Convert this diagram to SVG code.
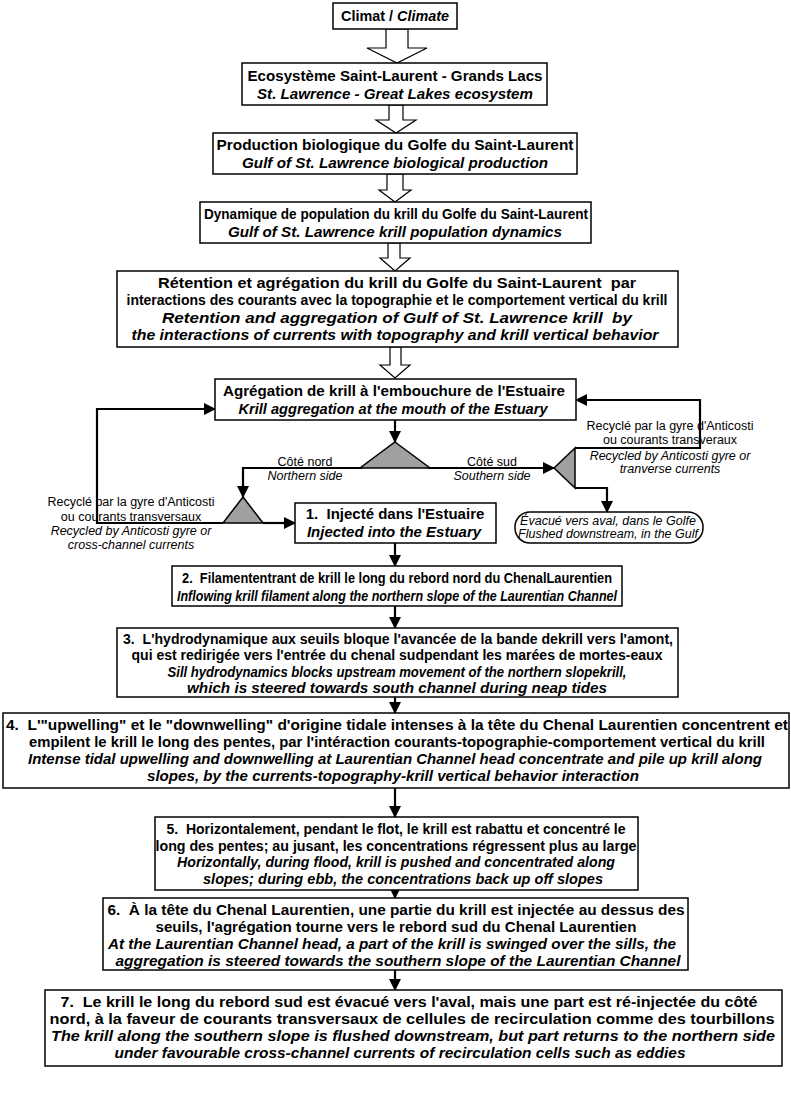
<svg xmlns="http://www.w3.org/2000/svg" width="791" height="1100" viewBox="0 0 791 1100">
<style>
text{font-family:"Liberation Sans",Arial,sans-serif;fill:#000;white-space:pre}
.t{font-weight:bold;font-size:15px;text-anchor:middle}
.ti{font-weight:bold;font-style:italic;font-size:15px;text-anchor:middle}
.c{font-weight:bold;font-size:14px;text-anchor:middle}
.ci{font-weight:bold;font-style:italic;font-size:14px;text-anchor:middle}
.s{font-size:12.5px;text-anchor:middle}
.si{font-size:12.5px;font-style:italic;text-anchor:middle}
.box{fill:#fff;stroke:#000;stroke-width:1.5}
.tri{fill:#a0a0a0;stroke:#000;stroke-width:1.5;stroke-linejoin:miter}
.hol{fill:#fff;stroke:#000;stroke-width:1.2}
.ln{fill:none;stroke:#000;stroke-width:2.2}
</style>
<defs>
<marker id="ah" markerUnits="userSpaceOnUse" markerWidth="12" markerHeight="12" refX="11" refY="6" orient="auto">
<path d="M0,0 L12,6 L0,12 z" fill="#000"/>
</marker>
</defs>
<rect width="791" height="1100" fill="#fff"/>

<g id="connectors">
<polygon class="hol" points="386,29 408,29 408,48 427,48 397,63 367,48 386,48"/>
<polygon class="hol" points="389,105 403,105 403,120 416,120 396,133 376,120 389,120"/>
<polygon class="hol" points="387,174 403,174 403,190 411,190 395,202 379,190 387,190"/>
<polygon class="hol" points="388,243 400,243 400,258 410,258 395,271 380,258 388,258"/>
<polygon class="hol" points="390,347 401,347 401,365 410,365 395,378 380,365 390,365"/>
<path class="ln" d="M395,420 V442" marker-end="url(#ah)"/>
<path class="ln" d="M362,468 H243 V497" marker-end="url(#ah)"/>
<path class="ln" d="M428,468 H554" marker-end="url(#ah)"/>
<path class="ln" d="M263,523 H295" marker-end="url(#ah)"/>
<path class="ln" d="M223,523 H97 V409 H215" marker-end="url(#ah)"/>
<path class="ln" d="M575,448 H700 V400 H576" marker-end="url(#ah)"/>
<path class="ln" d="M575,488 H607 V512" marker-end="url(#ah)"/>
<path class="ln" d="M395,543 V566" marker-end="url(#ah)"/>
<path class="ln" d="M395,606 V628" marker-end="url(#ah)"/>
<path class="ln" d="M395,697 V713" marker-end="url(#ah)"/>
<path class="ln" d="M395,788 V817" marker-end="url(#ah)"/>
<path class="ln" d="M395,890 V898" marker-end="url(#ah)"/>
<path class="ln" d="M395,970 V990" marker-end="url(#ah)"/>
</g>

<g id="tri-main"><polygon class="tri" points="395,442 430,468 360,468"/></g>
<g id="tri-north"><polygon class="tri" points="243,497 263,523 223,523"/></g>
<g id="tri-south"><polygon class="tri" points="554,468 575,448 575,488"/></g>

<g id="climat">
<rect class="box" x="333" y="3" width="124" height="26"/>
<text class="t" x="395" y="21" textLength="108" lengthAdjust="spacingAndGlyphs">Climat / <tspan font-style="italic">Climate</tspan></text>
</g>
<g id="ecosysteme">
<rect class="box" x="242" y="63" width="305" height="42"/>
<text class="t" x="395" y="81" textLength="295" lengthAdjust="spacingAndGlyphs">Ecosystème Saint-Laurent - Grands Lacs</text>
<text class="ti" x="395" y="99" textLength="276" lengthAdjust="spacingAndGlyphs">St. Lawrence - Great Lakes ecosystem</text>
</g>
<g id="production">
<rect class="box" x="213" y="133" width="364" height="41"/>
<text class="t" x="395" y="150" textLength="357" lengthAdjust="spacingAndGlyphs">Production biologique du Golfe du Saint-Laurent</text>
<text class="ti" x="395" y="168" textLength="306" lengthAdjust="spacingAndGlyphs">Gulf of St. Lawrence biological production</text>
</g>
<g id="dynamique">
<rect class="box" x="200" y="202" width="391" height="41"/>
<text class="t" x="396" y="219" textLength="384" lengthAdjust="spacingAndGlyphs">Dynamique de population du krill du Golfe du Saint-Laurent</text>
<text class="ti" x="395" y="237" textLength="334" lengthAdjust="spacingAndGlyphs">Gulf of St. Lawrence krill population dynamics</text>
</g>
<g id="retention">
<rect class="box" x="117" y="271" width="561" height="76"/>
<text class="t" x="397" y="288" textLength="478" lengthAdjust="spacingAndGlyphs">Rétention et agrégation du krill du Golfe du Saint-Laurent  par</text>
<text class="t" x="397" y="305" textLength="541" lengthAdjust="spacingAndGlyphs">interactions des courants avec la topographie et le comportement vertical du krill</text>
<text class="ti" x="397" y="323" textLength="470" lengthAdjust="spacingAndGlyphs">Retention and aggregation of Gulf of St. Lawrence krill  by</text>
<text class="ti" x="395" y="340" textLength="527" lengthAdjust="spacingAndGlyphs">the interactions of currents with topography and krill vertical behavior</text>
</g>
<g id="agregation">
<rect class="box" x="215" y="379" width="361" height="41"/>
<text class="t" x="394" y="396" textLength="342" lengthAdjust="spacingAndGlyphs">Agrégation de krill à l'embouchure de l'Estuaire</text>
<text class="ti" x="393" y="414" textLength="309" lengthAdjust="spacingAndGlyphs">Krill aggregation at the mouth of the Estuary</text>
</g>
<g id="label-nord">
<text class="s" x="305" y="466">Côté nord</text>
<text class="si" x="305" y="480">Northern side</text>
</g>
<g id="label-sud">
<text class="s" x="492" y="466">Côté sud</text>
<text class="si" x="492" y="480">Southern side</text>
</g>
<g id="recycle-left">
<text class="s" x="131" y="506">Recyclé par la gyre d'Anticosti</text>
<text class="s" x="131" y="521">ou courants transversaux</text>
<text class="si" x="131" y="535">Recycled by Anticosti gyre or</text>
<text class="si" x="131" y="549">cross-channel currents</text>
</g>
<g id="recycle-right">
<text class="s" x="670" y="430">Recyclé par la gyre d'Anticosti</text>
<text class="s" x="670" y="444">ou courants transveraux</text>
<text class="si" x="670" y="460">Recycled by Anticosti gyre or</text>
<text class="si" x="670" y="473">tranverse currents</text>
</g>
<g id="evacue">
<rect class="box" x="515" y="512" width="188" height="31" rx="15" ry="15"/>
<text class="si" x="608" y="525">Évacué vers aval, dans le Golfe</text>
<text class="si" x="608" y="538">Flushed downstream, in the Gulf</text>
</g>
<g id="step1">
<rect class="box" x="295" y="503" width="201" height="40"/>
<text class="t" x="395" y="519">1.  Injecté dans l'Estuaire</text>
<text class="ti" x="394" y="537">Injected into the Estuary</text>
</g>
<g id="step2">
<rect class="box" x="172" y="566" width="450" height="40"/>
<text class="c" x="397" y="583" textLength="430" lengthAdjust="spacingAndGlyphs">2.  Filamententrant de krill le long du rebord nord du ChenalLaurentien</text>
<text class="ci" x="397" y="601" textLength="440" lengthAdjust="spacingAndGlyphs">Inflowing krill filament along the northern slope of the Laurentian Channel</text>
</g>
<g id="step3">
<rect class="box" x="117" y="628" width="561" height="69"/>
<text class="c" x="398" y="644" textLength="550" lengthAdjust="spacingAndGlyphs">3.  L'hydrodynamique aux seuils bloque l'avancée de la bande dekrill vers l'amont,</text>
<text class="c" x="397" y="660" textLength="531" lengthAdjust="spacingAndGlyphs">qui est redirigée vers l'entrée du chenal sudpendant les marées de mortes-eaux</text>
<text class="ci" x="397" y="677" textLength="459" lengthAdjust="spacingAndGlyphs">Sill hydrodynamics blocks upstream movement of the northern slopekrill,</text>
<text class="ci" x="397" y="693" textLength="420" lengthAdjust="spacingAndGlyphs">which is steered towards south channel during neap tides</text>
</g>
<g id="step4">
<rect class="box" x="3" y="713" width="786" height="75"/>
<text class="c" x="397" y="730" textLength="782" lengthAdjust="spacingAndGlyphs">4.  L'"upwelling" et le "downwelling" d'origine tidale intenses à la tête du Chenal Laurentien concentrent et</text>
<text class="c" x="397" y="747" textLength="736" lengthAdjust="spacingAndGlyphs">empilent le krill le long des pentes, par l'intéraction courants-topographie-comportement vertical du krill</text>
<text class="ci" x="395" y="764" textLength="734" lengthAdjust="spacingAndGlyphs">Intense tidal upwelling and downwelling at Laurentian Channel head concentrate and pile up krill along</text>
<text class="ci" x="393" y="781" textLength="492" lengthAdjust="spacingAndGlyphs">slopes, by the currents-topography-krill vertical behavior interaction</text>
</g>
<g id="step5">
<rect class="box" x="155" y="817" width="483" height="73"/>
<text class="c" x="396" y="834" textLength="459" lengthAdjust="spacingAndGlyphs">5.  Horizontalement, pendant le flot, le krill est rabattu et concentré le</text>
<text class="c" x="396" y="851" textLength="481" lengthAdjust="spacingAndGlyphs">long des pentes; au jusant, les concentrations régressent plus au large</text>
<text class="ci" x="396" y="867" textLength="438" lengthAdjust="spacingAndGlyphs">Horizontally, during flood, krill is pushed and concentrated along</text>
<text class="ci" x="403" y="884" textLength="400" lengthAdjust="spacingAndGlyphs">slopes; during ebb, the concentrations back up off slopes</text>
</g>
<g id="step6">
<rect class="box" x="103" y="898" width="585" height="72"/>
<text class="c" x="396" y="915" textLength="577" lengthAdjust="spacingAndGlyphs">6.  À la tête du Chenal Laurentien, une partie du krill est injectée au dessus des</text>
<text class="c" x="396" y="932" textLength="481" lengthAdjust="spacingAndGlyphs">seuils, l'agrégation tourne vers le rebord sud du Chenal Laurentien</text>
<text class="ci" x="392" y="949" textLength="568" lengthAdjust="spacingAndGlyphs">At the Laurentian Channel head, a part of the krill is swinged over the sills, the</text>
<text class="ci" x="398" y="966" textLength="565" lengthAdjust="spacingAndGlyphs">aggregation is steered towards the southern slope of the Laurentian Channel</text>
</g>
<g id="step7">
<rect class="box" x="45" y="990" width="737" height="76"/>
<text class="c" x="409" y="1007" textLength="697" lengthAdjust="spacingAndGlyphs">7.  Le krill le long du rebord sud est évacué vers l'aval, mais une part est ré-injectée du côté</text>
<text class="c" x="412" y="1024" textLength="725" lengthAdjust="spacingAndGlyphs">nord, à la faveur de courants transversaux de cellules de recirculation comme des tourbillons</text>
<text class="ci" x="413" y="1041" textLength="724" lengthAdjust="spacingAndGlyphs">The krill along the southern slope is flushed downstream, but part returns to the northern side</text>
<text class="ci" x="400" y="1058" textLength="571" lengthAdjust="spacingAndGlyphs">under favourable cross-channel currents of recirculation cells such as eddies</text>
</g>
</svg>
